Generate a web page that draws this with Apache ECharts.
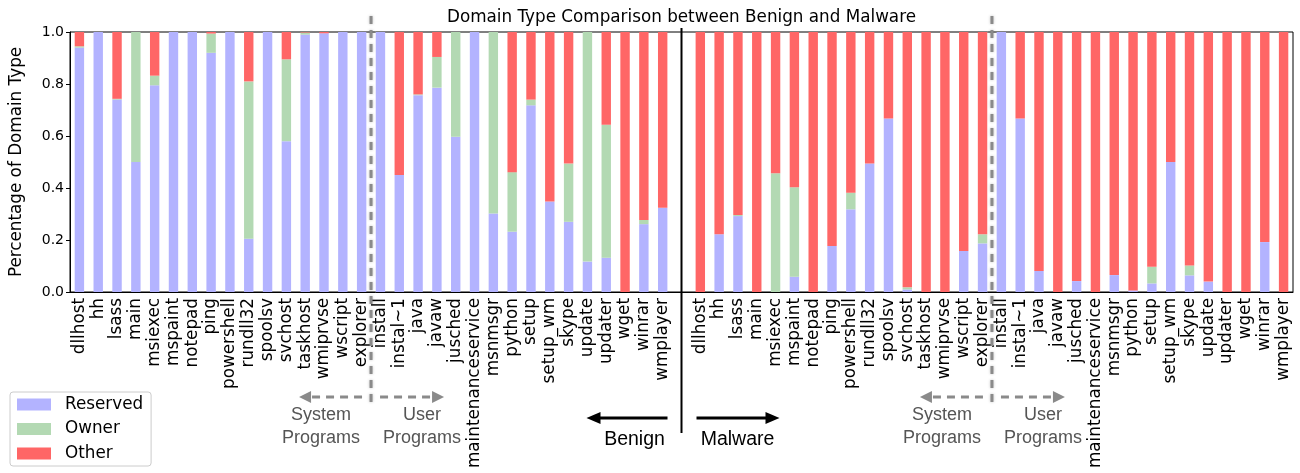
<!DOCTYPE html>
<html>
<head>
<meta charset="utf-8">
<script src="https://cdn.jsdelivr.net/npm/echarts@6/dist/echarts.min.js"></script>
<style>html,body{margin:0;padding:0;background:#fff}#c{width:1300px;height:473px}</style>
</head>
<body>
<div id="c"></div>
<script>
// ---- data ----
const systemPrograms = ['dllhost','hh','lsass','main','msiexec','mspaint','notepad','ping','powershell','rundll32','spoolsv','svchost','taskhost','wmiprvse','wscript','explorer'];
const userPrograms = ['install','instal~1','java','javaw','jusched','maintenanceservice','msnmsgr','python','setup','setup_wm','skype','update','updater','wget','winrar','wmplayer'];

const benignReserved = [0.94,1,0.74,0.50,0.795,1,1,0.92,1,0.205,1,0.58,0.99,0.995,1,1,
                        1,0.45,0.757,0.786,0.597,1,0.302,0.232,0.718,0.348,0.270,0.117,0.132,0,0.261,0.324];
const benignOwner    = [0.005,0,0.003,0.50,0.037,0,0,0.074,0,0.605,0,0.315,0.008,0,0,0,
                        0,0,0.003,0.118,0.403,0,0.698,0.229,0.022,0,0.224,0.883,0.511,0,0.016,0];
const benignOther    = [0.055,0,0.257,0,0.168,0,0,0.006,0,0.19,0,0.105,0.002,0.005,0,0,
                        0,0.55,0.24,0.096,0,0,0,0.539,0.26,0.652,0.506,0,0.357,1,0.723,0.676];

const malwareReserved = [0,0.222,0.292,0,0,0.059,0,0.177,0.318,0.494,0.667,0.01,0,0,0.158,0.187,
                         1,0.667,0.081,0,0.042,0,0.065,0.006,0.033,0.5,0.064,0.04,0,0,0.192,0];
const malwareOwner    = [0,0,0.004,0,0.457,0.344,0,0,0.064,0,0,0.008,0,0,0,0.035,
                         0,0,0,0,0,0,0,0,0.064,0,0.038,0,0,0,0,0];
const malwareOther    = [1,0.778,0.704,1,0.543,0.597,1,0.823,0.618,0.506,0.333,0.982,1,1,0.842,0.778,
                         0,0.333,0.919,1,0.958,1,0.935,0.994,0.903,0.5,0.898,0.96,1,1,0.808,1];

const yTicks = [0, 0.2, 0.4, 0.6, 0.8, 1.0];
const seriesNames = ['Reserved','Owner','Other'];
const seriesColors = ['#b3b3ff','#b3d9b3','#ff6666'];

// ---- build ----
const programs = systemPrograms.concat(userPrograms);
const categories = programs.concat(['']).concat(programs);   // empty slot divides Benign | Malware
const join = (a, b) => a.concat(['-']).concat(b);
const seriesData = [join(benignReserved, malwareReserved), join(benignOwner, malwareOwner), join(benignOther, malwareOther)];

const FONT = 'DejaVu Sans';
const chart = echarts.init(document.getElementById('c'), null, {renderer: 'canvas'});
chart.setOption({
  animation: false,
  backgroundColor: '#fff',
  grid: {left: 60, right: 7, top: 32, bottom: 181, show: true, borderColor: '#000', borderWidth: 1},
  legend: {
    orient: 'vertical', left: 10, top: 392,
    data: seriesNames, icon: 'rect', itemWidth: 34, itemHeight: 12, itemGap: 7.5,
    padding: [4, 8, 4, 7], borderColor: '#ccc', borderWidth: 1, borderRadius: 3,
    textStyle: {fontFamily: FONT, fontSize: 16.8, color: '#000', lineHeight: 17, padding: [0, 0, 0, 9]}
  },
  xAxis: {
    type: 'category', data: categories,
    axisLine: {lineStyle: {color: '#000', width: 1}},
    axisTick: {interval: 0, alignWithLabel: true, length: 4, lineStyle: {color: '#000'}},
    axisLabel: {interval: 0, rotate: 90, fontFamily: FONT, fontSize: 16.8, color: '#000', margin: 6, hideOverlap: false},
    splitLine: {show: false}
  },
  yAxis: {
    type: 'value', min: 0, max: 1, interval: 0.2,
    name: 'Percentage of Domain Type', nameLocation: 'middle', nameRotate: 90, nameGap: 45,
    nameTextStyle: {fontFamily: FONT, fontSize: 16.8, color: '#000'},
    axisLine: {show: true, lineStyle: {color: '#000', width: 1}},
    axisTick: {show: true, length: 4, lineStyle: {color: '#000'}},
    axisLabel: {fontFamily: FONT, fontSize: 14, color: '#000', margin: 6,
      formatter: v => yTicks.includes(+v.toFixed(1)) ? v.toFixed(1) : ''},
    splitLine: {show: false}
  },
  series: seriesNames.map((n, i) => ({
    name: n, type: 'bar', stack: 'total', barWidth: '50%',
    itemStyle: {color: seriesColors[i]},
    data: seriesData[i]
  }))
});

// ---- annotations, positioned from the category axis ----
const px = i => chart.convertToPixel({xAxisIndex: 0}, i);
const nP = programs.length;           // 32
const nS = systemPrograms.length;     // 16
const midIdx = nP;                    // empty slot
const divB = (px(nS - 1) + px(nS)) / 2;
const divM = (px(midIdx + nS) + px(midIdx + nS + 1)) / 2;
const xMid = px(midIdx);
const GRAY = '#8a8a8a';
const els = [];
els.push({type: 'text', x: (px(0) + px(categories.length - 1)) / 2, y: 18,
  style: {text: 'Domain Type Comparison between Benign and Malware', fontFamily: FONT, fontSize: 16.8, fill: '#000', textAlign: 'center', textVerticalAlign: 'middle'}});
function grayGroup(xd) {
  els.push({type: 'line', shape: {x1: xd, y1: 16, x2: xd, y2: 408}, z: 100,
    style: {stroke: GRAY, lineWidth: 3, lineDash: [8, 6], shadowBlur: 3, shadowColor: 'rgba(0,0,0,0.25)'}});
  const ay = 397;
  els.push({type: 'line', shape: {x1: xd - 9, y1: ay, x2: xd - 63, y2: ay}, style: {stroke: GRAY, lineWidth: 3, lineDash: [8, 6]}});
  els.push({type: 'polygon', shape: {points: [[xd - 72, ay], [xd - 60, ay - 6], [xd - 60, ay + 6]]}, style: {fill: GRAY}});
  els.push({type: 'line', shape: {x1: xd + 9, y1: ay, x2: xd + 63, y2: ay}, style: {stroke: GRAY, lineWidth: 3, lineDash: [8, 6]}});
  els.push({type: 'polygon', shape: {points: [[xd + 73, ay], [xd + 61, ay - 6], [xd + 61, ay + 6]]}, style: {fill: GRAY}});
  const tstyle = {fontFamily: 'Liberation Sans', fontSize: 18, fill: '#555', textAlign: 'center', textVerticalAlign: 'middle', lineHeight: 23};
  els.push({type: 'text', x: xd - 50, y: 427, style: Object.assign({text: 'System\nPrograms'}, tstyle)});
  els.push({type: 'text', x: xd + 51, y: 427, style: Object.assign({text: 'User\nPrograms'}, tstyle)});
}
grayGroup(divB);
grayGroup(divM);
// center divider and Benign / Malware arrows
els.push({type: 'line', shape: {x1: xMid, y1: 28, x2: xMid, y2: 433}, z: 100, style: {stroke: '#000', lineWidth: 2}});
const by = 418;
els.push({type: 'line', shape: {x1: xMid - 14, y1: by, x2: xMid - 84, y2: by}, style: {stroke: '#000', lineWidth: 3}});
els.push({type: 'polygon', shape: {points: [[xMid - 95, by], [xMid - 81, by - 6], [xMid - 81, by + 6]]}, style: {fill: '#000'}});
els.push({type: 'line', shape: {x1: xMid + 15, y1: by, x2: xMid + 87, y2: by}, style: {stroke: '#000', lineWidth: 3}});
els.push({type: 'polygon', shape: {points: [[xMid + 98, by], [xMid + 84, by - 6], [xMid + 84, by + 6]]}, style: {fill: '#000'}});
const bstyle = {fontFamily: 'Liberation Sans', fontSize: 19.5, fill: '#000', textAlign: 'center', textVerticalAlign: 'middle'};
els.push({type: 'text', x: xMid - 47, y: 440, style: Object.assign({text: 'Benign'}, bstyle)});
els.push({type: 'text', x: xMid + 56, y: 440, style: Object.assign({text: 'Malware'}, bstyle)});
chart.setOption({graphic: els});
</script>
</body>
</html>
